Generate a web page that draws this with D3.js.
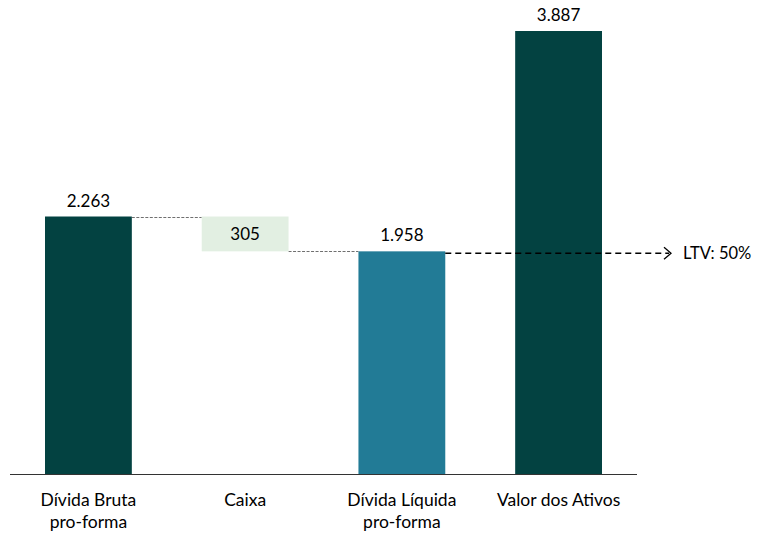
<!DOCTYPE html>
<html>
<head>
<meta charset="utf-8">
<script src="https://cdn.jsdelivr.net/npm/d3@7"></script>
<style>
  html, body { margin: 0; padding: 0; background: #fff; }
  svg { display: block; font-family: Lato, "Open Sans", sans-serif; }
</style>
</head>
<body>
<svg id="chart" width="759" height="537"></svg>
<script>
// Bridge from gross debt to net debt, compared with asset value (R$ mm)
const categories = ["Dívida Bruta\npro-forma", "Caixa", "Dívida Líquida\npro-forma", "Valor dos Ativos"];
const values = [2263, 305, 1958, 3887];
const valueLabels = ["2.263", "305", "1.958", "3.887"];
const barKinds = ["total", "step", "net", "total"];
const ltvLabel = "LTV: 50%";

const colors = { total: "#034241", step: "#e2efe2", net: "#227b96" };

const svg = d3.select("#chart");

const x = d3.scaleBand()
  .domain(categories)
  .range([45, 602])
  .paddingInner(0.446)
  .paddingOuter(0);

const y = d3.scaleLinear()
  .domain([0, 3887])
  .range([475, 31]);

// Floating extents for each bar
let running = 0;
const bars = categories.map((c, i) => {
  let y0, y1;
  if (barKinds[i] === "step") {
    y1 = running; y0 = running - values[i]; running = y0;
  } else {
    y0 = 0; y1 = values[i];
    if (i === 0) running = values[i];
  }
  return { c, v: values[i], label: valueLabels[i], kind: barKinds[i], y0, y1 };
});

// Connectors between the bridge steps
const conn = svg.append("g");
for (let i = 0; i < 2; i++) {
  const level = bars[i].kind === "step" ? bars[i].y0 : bars[i].y1;
  conn.append("line")
    .attr("x1", x(bars[i].c) + x.bandwidth())
    .attr("x2", x(bars[i + 1].c))
    .attr("y1", Math.round(y(level)) + 0.5)
    .attr("y2", Math.round(y(level)) + 0.5)
    .attr("stroke", "#6f6f6f")
    .attr("stroke-width", 1)
    .attr("stroke-dasharray", "3,1.5");
}

// Bars
svg.append("g").selectAll("rect")
  .data(bars)
  .join("rect")
  .attr("x", d => x(d.c))
  .attr("width", x.bandwidth())
  .attr("y", d => y(d.y1))
  .attr("height", d => y(d.y0) - y(d.y1))
  .attr("fill", d => colors[d.kind]);

// Value labels
svg.append("g").selectAll("text")
  .data(bars)
  .join("text")
  .attr("x", d => x(d.c) + x.bandwidth() / 2)
  .attr("y", d => d.kind === "step" ? (y(d.y1) + y(d.y0)) / 2 + 6 : y(d.y1) - 10)
  .attr("text-anchor", "middle")
  .attr("font-size", 17)
  .attr("fill", "#000")
  .text(d => d.label);

// LTV reference line from net debt level
const net = bars[2];
const ly = y(net.y1) + 2;
const lx0 = x(net.c) + x.bandwidth();
const lx1 = 671;
svg.append("line")
  .attr("x1", lx0).attr("x2", lx1 - 2)
  .attr("y1", ly).attr("y2", ly)
  .attr("stroke", "#000")
  .attr("stroke-width", 1.5)
  .attr("stroke-dasharray", "6,4");
svg.append("path")
  .attr("d", `M${lx1 - 7},${ly - 6} L${lx1},${ly} L${lx1 - 7},${ly + 6}`)
  .attr("fill", "none")
  .attr("stroke", "#000")
  .attr("stroke-width", 1.3);
svg.append("text")
  .attr("x", 683).attr("y", ly + 6)
  .attr("font-size", 16.5)
  .attr("fill", "#000")
  .text(ltvLabel);

// Baseline axis
const axis = d3.axisBottom(x).tickSize(0).tickFormat("");
const ag = svg.append("g").attr("transform", "translate(0,474)").call(axis);
ag.select(".domain").attr("stroke", "#333").attr("stroke-width", 1.2)
  .attr("d", "M10,0.5H637");

// Category labels (two lines where needed)
const labels = svg.append("g").selectAll("text")
  .data(categories)
  .join("text")
  .attr("x", d => x(d) + x.bandwidth() / 2)
  .attr("y", 506)
  .attr("text-anchor", "middle")
  .attr("font-size", 17.5)
  .attr("fill", "#000");
labels.each(function(d) {
  const lines = d.split("\n");
  const t = d3.select(this);
  lines.forEach((ln, k) => {
    t.append("tspan")
      .attr("x", x(d) + x.bandwidth() / 2)
      .attr("dy", k === 0 ? 0 : 22)
      .text(ln);
  });
});
</script>
</body>
</html>
